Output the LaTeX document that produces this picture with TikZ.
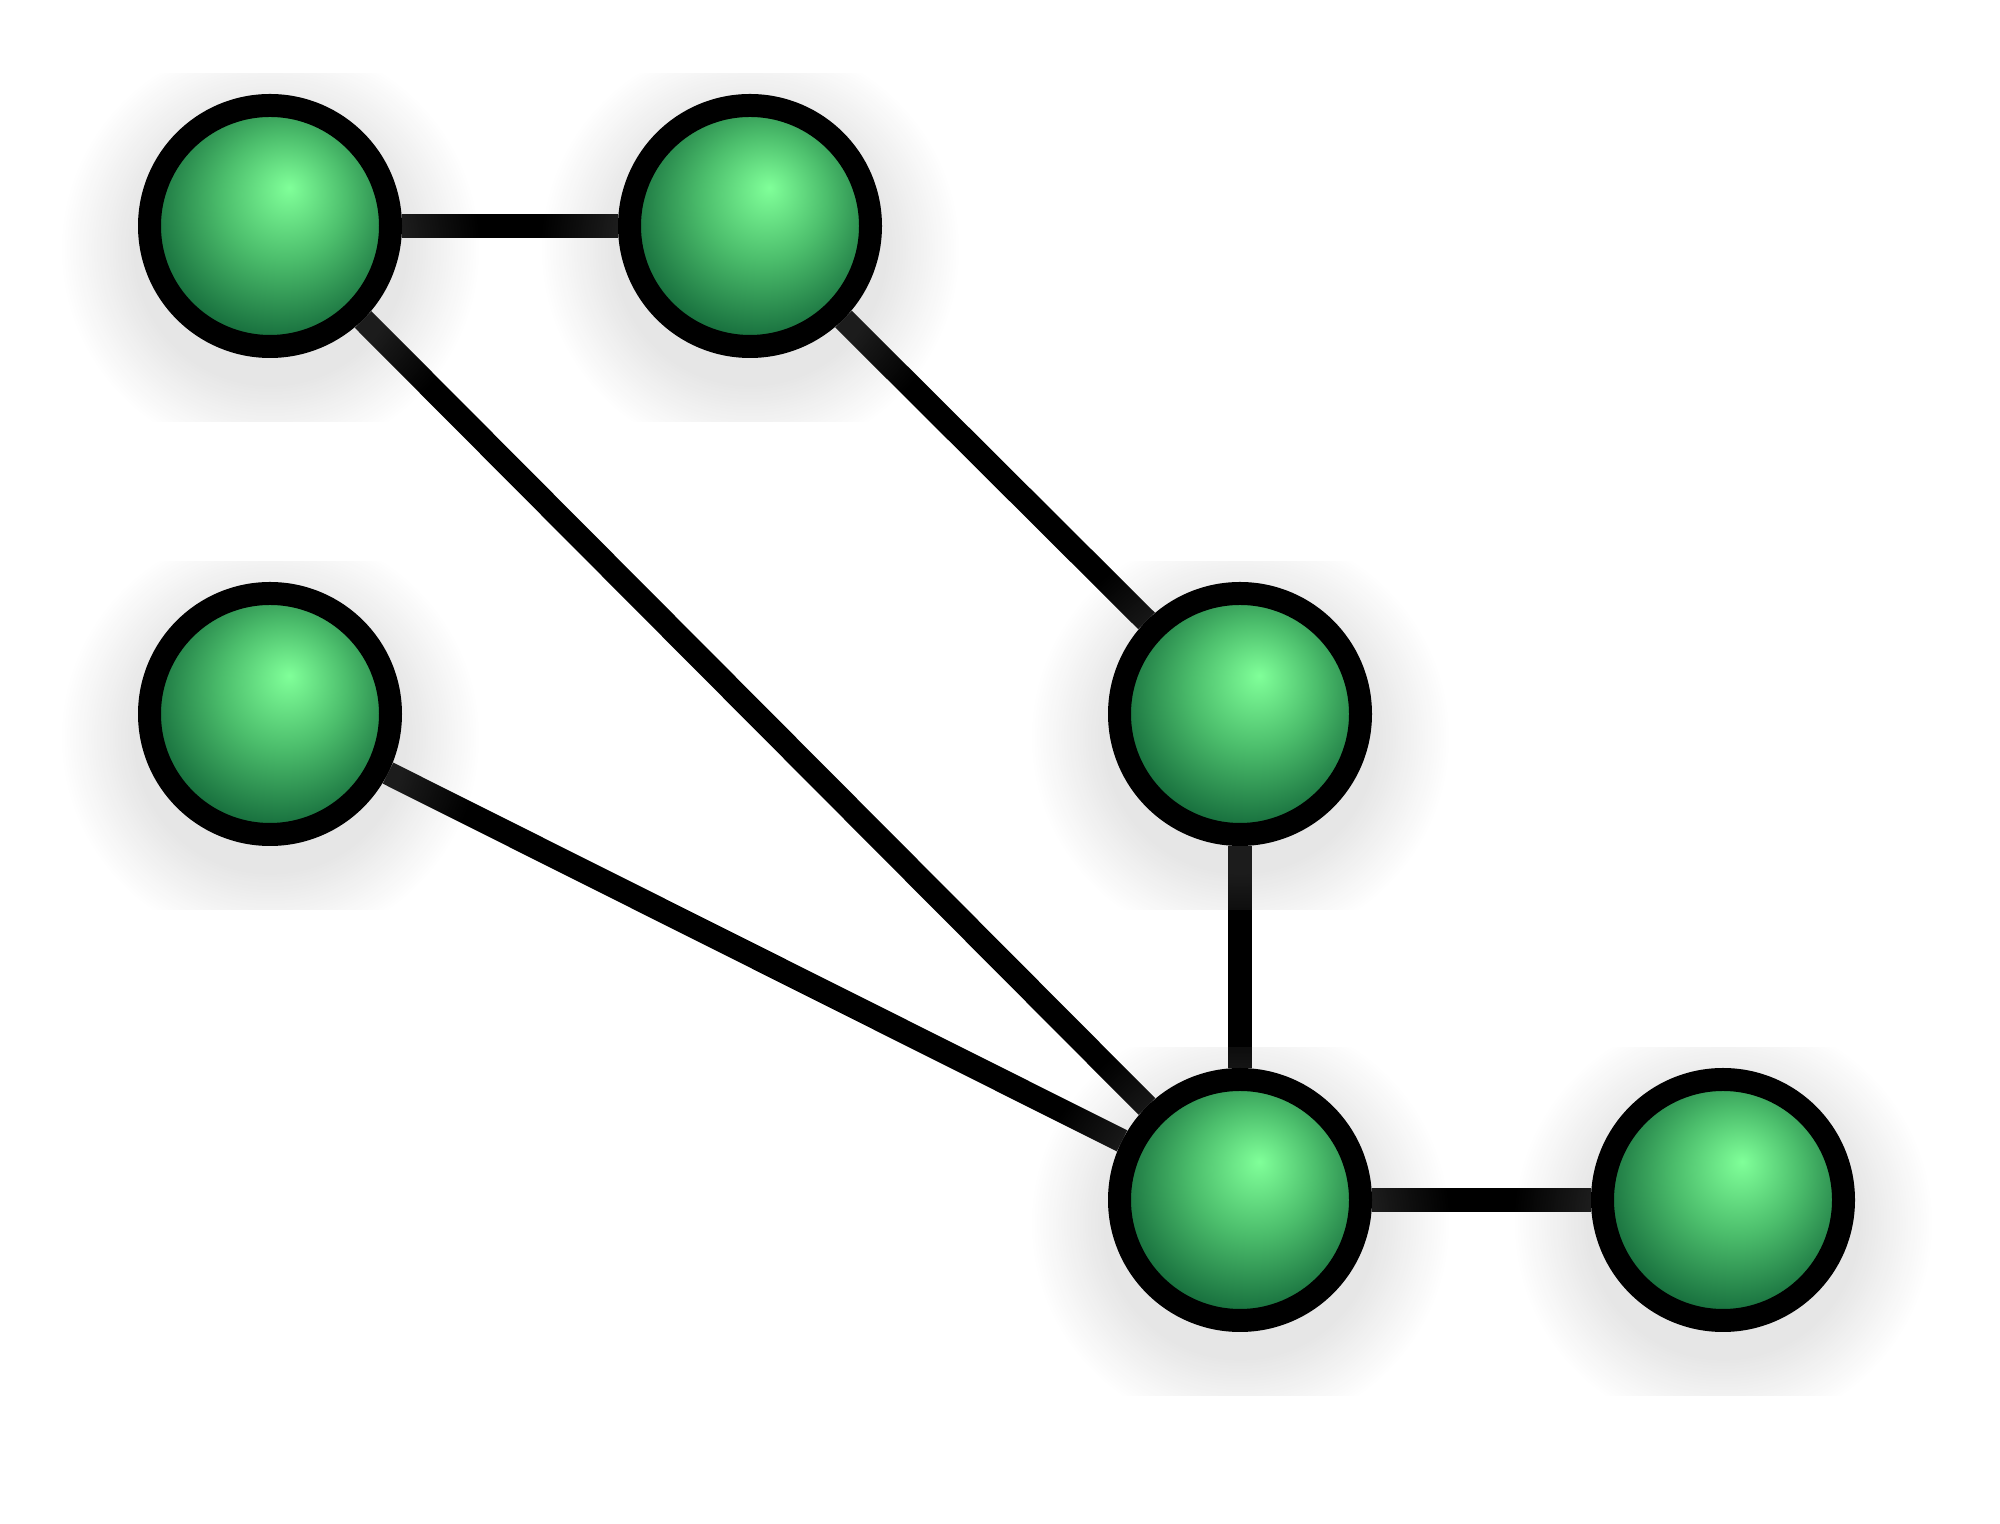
\documentclass[tikz,border=0pt]{standalone}
\usepackage{tikz}
\usetikzlibrary{fadings,backgrounds}
\definecolor{ballhi}{RGB}{128,255,153}
\definecolor{ballmid}{RGB}{76,190,108}
\definecolor{balldark}{RGB}{16,100,55}
\definecolor{glowgray}{RGB}{136,136,136}
\pgfdeclareradialshading{nodeball}{\pgfpoint{4bp}{8bp}}{color(0bp)=(ballhi); color(13bp)=(ballmid); color(29bp)=(balldark); color(50bp)=(balldark)}
\pgfdeclareradialshading{glowmask}{\pgfpointorigin}{color(0bp)=(white); color(16bp)=(white); color(25bp)=(black); color(50bp)=(black)}
\pgfdeclarefading{glowfade}{\pgfuseshading{glowmask}}

\begin{document}
\begin{tikzpicture}[vertex/.style={circle, draw, line width=0.23cm, minimum size=2.41cm, inner sep=0pt, shading=nodeball},
                    link/.style={line width=0.235cm}]
                \useasboundingbox (0,0) rectangle (20,15.24);

                \node[vertex] (A) at (2.70,12.98) {};
                \node[vertex] (B) at (7.50,12.98) {};
                \node[vertex] (C) at (2.70,8.10) {};
                \node[vertex] (D) at (12.40,8.10) {};
                \node[vertex] (E) at (12.40,3.24) {};
                \node[vertex] (F) at (17.23,3.24) {};

                \begin{pgfonlayer}{background}
                \draw[link] (A) -- (B);
                \draw[link] (A) -- (E);
                \draw[link] (B) -- (D);
                \draw[link] (C) -- (E);
                \draw[link] (D) -- (E);
                \draw[link] (E) -- (F);
                % soft shadows, over the links
                \foreach \n in {A,B,C,D,E,F} {
                    \begin{scope}[shift={(\n)}]
                        \clip (-2.3,-1.96) rectangle (2.3,1.52);
                        \fill[glowgray, fill opacity=0.21, path fading=glowfade] (0,-0.23) circle (2.1);
                    \end{scope}
                }
                \end{pgfonlayer}
            \end{tikzpicture}
\end{document}
